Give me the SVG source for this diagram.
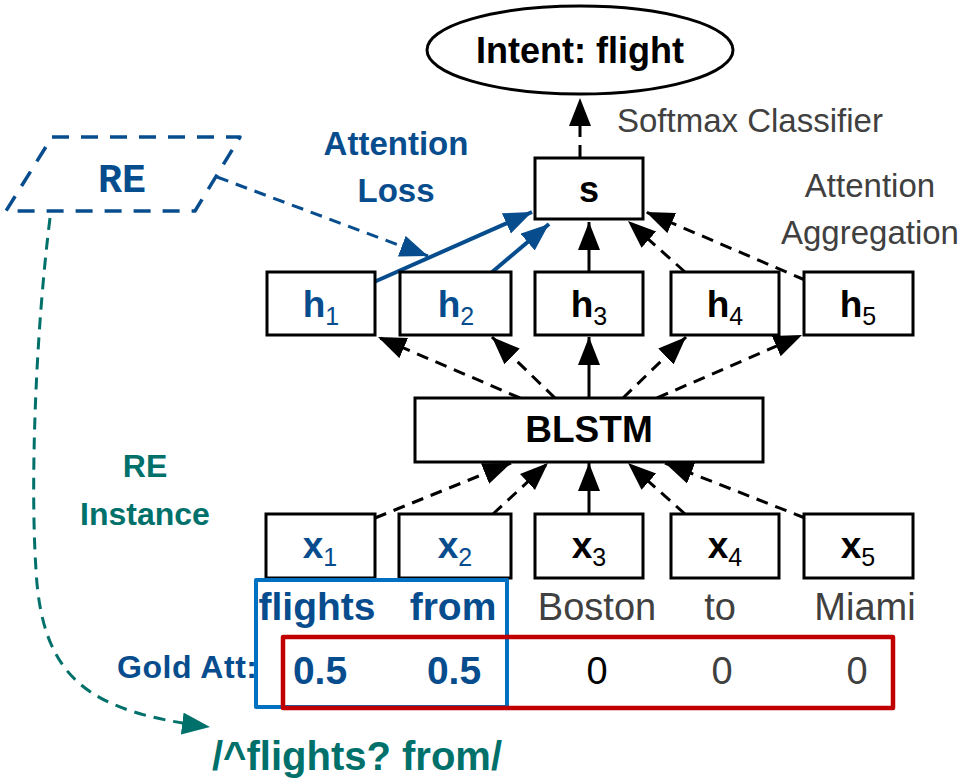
<svg xmlns="http://www.w3.org/2000/svg" width="965" height="779" viewBox="0 0 965 779">
<style>
.box{fill:#fff;stroke:#000;stroke-width:3}
.lbl{font-family:"Liberation Sans",Arial,sans-serif;font-weight:bold;fill:#000}
.hl{font-family:"Liberation Sans",Arial,sans-serif;font-weight:bold;font-size:37px;text-anchor:middle}
.sub{font-weight:normal;font-size:25px}
.blue{fill:#074d8e}
.teal{fill:#00706b}
.gray{font-family:"Liberation Sans",Arial,sans-serif;fill:#404040}
.dash{fill:none;stroke:#000;stroke-width:3;stroke-dasharray:12 8;marker-end:url(#ah)}
.solid{fill:none;stroke:#000;stroke-width:3;marker-end:url(#ah)}
.bl{fill:none;stroke:#074d8e;stroke-width:4;marker-end:url(#ahb)}
</style>
<defs>
<marker id="ah" markerUnits="userSpaceOnUse" markerWidth="30" markerHeight="24" refX="28" refY="11" orient="auto"><path d="M0,0 L28,11 L0,22 Z" fill="#000"/></marker>
<marker id="ahb" markerUnits="userSpaceOnUse" markerWidth="30" markerHeight="24" refX="28" refY="11" orient="auto"><path d="M0,0 L28,11 L0,22 Z" fill="#074d8e"/></marker>
<marker id="aht" markerUnits="userSpaceOnUse" markerWidth="30" markerHeight="24" refX="28" refY="11" orient="auto"><path d="M0,0 L28,11 L0,22 Z" fill="#00706b"/></marker>
</defs>

<g id="connectors">
<path class="dash" d="M580,157 L580,98"/>
<path class="solid" d="M589,272 L589,222"/>
<path class="dash" d="M685,272 L628,221"/>
<path class="dash" d="M805,280 L646,212"/>
<path class="bl" d="M374,282 L532,212"/>
<path class="bl" d="M491,273 L549,224"/>
<path fill="none" stroke="#074d8e" stroke-width="3" stroke-dasharray="12 8" marker-end="url(#ahb)" d="M217,177 L428,256"/>
<path class="dash" d="M520,398 L378,337"/>
<path class="dash" d="M555,398 L492,337"/>
<path class="solid" d="M589,398 L589,337"/>
<path class="dash" d="M623,398 L686,337"/>
<path class="dash" d="M657,398 L802,335"/>
<path class="dash" d="M375,518 L511,463"/>
<path class="dash" d="M493,514 L548,463"/>
<path class="solid" d="M589,514 L589,463"/>
<path class="dash" d="M685,514 L628,463"/>
<path class="dash" d="M805,518 L665,463"/>
<path fill="none" stroke="#00706b" stroke-width="3" stroke-dasharray="12 8" marker-end="url(#aht)" d="M50,218 C36,330 30,480 36,570 C42,680 90,712 210,727"/>
</g>

<g id="intent">
<ellipse cx="580" cy="50" rx="153" ry="44" fill="#fff" stroke="#000" stroke-width="3"/>
<text class="lbl" x="580" y="63" font-size="36" text-anchor="middle">Intent: flight</text>
</g>
<text class="gray" x="617" y="132" font-size="33">Softmax Classifier</text>

<g id="re">
<polygon points="52,137 240,137 195,211 6,211" fill="none" stroke="#074d8e" stroke-width="3.5" stroke-dasharray="17 12" stroke-linejoin="round"/>
<text x="122" y="192" font-family="'Courier New','Liberation Mono',monospace" font-weight="bold" font-size="40" text-anchor="middle" fill="#074d8e">RE</text>
</g>

<text class="lbl blue" x="396" y="155" font-size="33" text-anchor="middle">Attention</text>
<text class="lbl blue" x="396" y="202" font-size="33" text-anchor="middle">Loss</text>

<g id="s">
<rect class="box" x="535" y="158" width="108" height="61"/>
<text class="lbl" x="589" y="202" font-size="36" text-anchor="middle">s</text>
</g>

<text class="gray" x="870" y="197" font-size="33" text-anchor="middle">Attention</text>
<text class="gray" x="870" y="244" font-size="33" text-anchor="middle">Aggregation</text>

<g id="h1"><rect class="box" x="267" y="272" width="108" height="63"/><text class="hl blue" x="321" y="317">h<tspan class="sub" dy="8">1</tspan></text></g>
<g id="h2"><rect class="box" x="400" y="272" width="111" height="63"/><text class="hl blue" x="456" y="317">h<tspan class="sub" dy="8">2</tspan></text></g>
<g id="h3"><rect class="box" x="535" y="272" width="108" height="63"/><text class="hl" x="589" y="317">h<tspan class="sub" dy="8">3</tspan></text></g>
<g id="h4"><rect class="box" x="671" y="272" width="108" height="63"/><text class="hl" x="725" y="317">h<tspan class="sub" dy="8">4</tspan></text></g>
<g id="h5"><rect class="box" x="804" y="272" width="109" height="63"/><text class="hl" x="858" y="317">h<tspan class="sub" dy="8">5</tspan></text></g>

<g id="blstm">
<rect class="box" x="415" y="398" width="348" height="64"/>
<text class="lbl" x="589" y="442" font-size="37" text-anchor="middle">BLSTM</text>
</g>

<text class="lbl teal" x="145" y="477" font-size="32" text-anchor="middle">RE</text>
<text class="lbl teal" x="145" y="525" font-size="32" text-anchor="middle">Instance</text>

<g id="x1"><rect class="box" x="266" y="514" width="109" height="64"/><text class="hl blue" x="320" y="558">x<tspan class="sub" dy="8">1</tspan></text></g>
<g id="x2"><rect class="box" x="399" y="514" width="112" height="64"/><text class="hl blue" x="455" y="558">x<tspan class="sub" dy="8">2</tspan></text></g>
<g id="x3"><rect class="box" x="535" y="514" width="108" height="64"/><text class="hl" x="589" y="558">x<tspan class="sub" dy="8">3</tspan></text></g>
<g id="x4"><rect class="box" x="671" y="514" width="108" height="64"/><text class="hl" x="725" y="558">x<tspan class="sub" dy="8">4</tspan></text></g>
<g id="x5"><rect class="box" x="804" y="514" width="109" height="64"/><text class="hl" x="858" y="558">x<tspan class="sub" dy="8">5</tspan></text></g>

<text class="lbl blue" x="317" y="620" font-size="39" text-anchor="middle">flights</text>
<text class="lbl blue" x="453" y="620" font-size="39" text-anchor="middle">from</text>
<text class="gray" x="597" y="620" font-size="38" text-anchor="middle">Boston</text>
<text class="gray" x="720" y="620" font-size="38" text-anchor="middle">to</text>
<text class="gray" x="865" y="620" font-size="38" text-anchor="middle">Miami</text>

<text class="lbl blue" x="117" y="678" font-size="32" textLength="140" lengthAdjust="spacing">Gold Att:</text>
<text class="lbl blue" x="320" y="684" font-size="39" text-anchor="middle">0.5</text>
<text class="lbl blue" x="454" y="684" font-size="39" text-anchor="middle">0.5</text>
<text x="597" y="684" font-family="'Liberation Sans',Arial,sans-serif" font-size="38" text-anchor="middle" fill="#000">0</text>
<text class="gray" x="722" y="684" font-size="38" text-anchor="middle">0</text>
<text class="gray" x="857" y="684" font-size="38" text-anchor="middle">0</text>

<rect x="256" y="580" width="251" height="127" fill="none" stroke="#0070c0" stroke-width="4" stroke-linejoin="round"/>
<rect x="283" y="637" width="610" height="71" fill="none" stroke="#c00000" stroke-width="4.5" stroke-linejoin="round"/>

<text class="lbl teal" x="212" y="770" font-size="40">/^flights? from/</text>
</svg>
